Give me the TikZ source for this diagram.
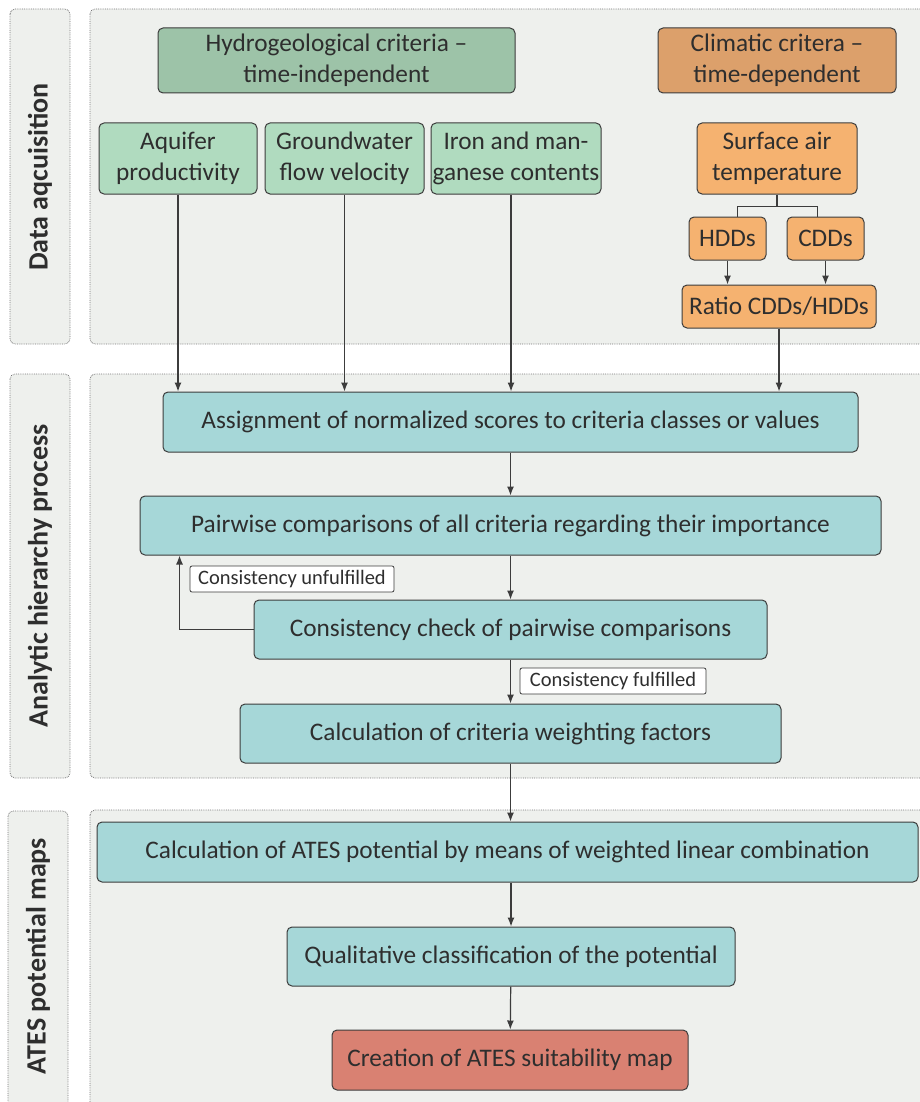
\documentclass[tikz,border=0pt]{standalone}
\usepackage{fontspec}
\setmainfont{Carlito}
\usetikzlibrary{arrows.meta}
\definecolor{panelbg}{HTML}{EEF0ED}
\definecolor{hydro}{HTML}{9DC3A8}
\definecolor{crit}{HTML}{B0DBBF}
\definecolor{clim}{HTML}{DCA06B}
\definecolor{temp}{HTML}{F5B270}
\definecolor{ahp}{HTML}{A6D7D8}
\definecolor{result}{HTML}{D98172}
\definecolor{edge}{HTML}{3C3C3C}
\definecolor{ink}{HTML}{2E2E2E}
\begin{document}
\begin{tikzpicture}[x=1pt,y=-1pt,>={Latex[length=9pt,width=7pt]},font=\fontsize{25.3}{31}\selectfont,text=ink]
        \tikzstyle{panel}=[fill=panelbg,draw=edge!70,densely dotted,rounded corners=5pt,line width=0.8pt]
        \tikzstyle{side}=[rotate=90,font=\fontsize{28}{32}\selectfont\bfseries]
        \tikzstyle{box}=[draw=edge,rounded corners=5pt,line width=1pt,align=center,inner sep=0pt]
        \tikzstyle{tag}=[draw=edge,fill=white,rounded corners=2pt,line width=0.8pt,inner sep=0pt,minimum height=26pt,font=\fontsize{20.5}{23}\selectfont]
        \tikzstyle{link}=[draw=edge,line width=1.2pt]
        \useasboundingbox (0,0) rectangle (919,1102);
        \draw[panel] (10,9) rectangle (70,344);
        \draw[panel] (90,9) rectangle (930,344);
        \draw[panel] (10,374) rectangle (70,778);
        \draw[panel] (90,374) rectangle (930,778);
        \draw[panel] (8,811) rectangle (68,1120);
        \draw[panel] (90,810) rectangle (930,1120);
        \node[side] (s1) at (40,177) {Data aqcuisition};
        \node[side] (s2) at (40,576) {Analytic hierarchy process};
        \node[side] (s3) at (38,956) {ATES potential maps};
        \node[box,fill=hydro,minimum width=357pt,minimum height=65pt] (hydro) at (336.5,60.5) {Hydrogeological criteria --\\time-independent};
        \node[box,fill=clim,minimum width=238pt,minimum height=65pt] (clim) at (777,60.5) {Climatic critera --\\time-dependent};
        \node[box,fill=crit,minimum width=158pt,minimum height=71pt] (aqui) at (178,158.5) {Aquifer\\productivity};
        \node[box,fill=crit,minimum width=159pt,minimum height=71pt] (flow) at (344.5,158.5) {Groundwater\\flow velocity};
        \node[box,fill=crit,minimum width=170pt,minimum height=71pt] (iron) at (516,158.5) {Iron and man-\\ganese contents};
        \node[box,fill=temp,minimum width=160pt,minimum height=71pt] (air) at (777,158.5) {Surface air\\temperature};
        \node[box,fill=temp,minimum width=77pt,minimum height=43pt] (hdd) at (727.5,238.5) {HDDs};
        \node[box,fill=temp,minimum width=77pt,minimum height=43pt] (cdd) at (825.5,238.5) {CDDs};
        \node[box,fill=temp,minimum width=194pt,minimum height=43pt] (ratio) at (779,306.5) {Ratio CDDs/HDDs};
        \node[box,fill=ahp,minimum width=695pt,minimum height=60pt] (score) at (510.5,422) {Assignment of normalized scores to criteria classes or values};
        \node[box,fill=ahp,minimum width=741pt,minimum height=59pt] (pair) at (510.5,525.5) {Pairwise comparisons of all criteria regarding their importance};
        \node[box,fill=ahp,minimum width=513pt,minimum height=59pt] (check) at (510.5,629.5) {Consistency check of pairwise comparisons};
        \node[box,fill=ahp,minimum width=541pt,minimum height=59pt] (weight) at (510.5,733.5) {Calculation of criteria weighting factors};
        \node[box,fill=ahp,minimum width=821pt,minimum height=60pt] (wlc) at (507.5,852) {Calculation of ATES potential by means of weighted linear combination};
        \node[box,fill=ahp,minimum width=448pt,minimum height=59pt] (qual) at (511,956.5) {Qualitative classification of the potential};
        \node[box,fill=result,minimum width=356pt,minimum height=60pt] (map) at (510,1060) {Creation of ATES suitability map};
        \node[tag,minimum width=204pt] (unful) at (292,579) {Consistency unfulfilled};
        \node[tag,minimum width=186pt] (ful) at (613,681) {Consistency fulfilled};
        \draw[link] (air.south) -- ++(0,12) coordinate (fork);
        \draw[link] ([xshift=10pt]hdd.north) |- (fork) -| ([xshift=-8pt]cdd.north);
        \draw[link,->] (hdd) -- (hdd |- ratio.north);
        \draw[link,->] (cdd) -- (cdd |- ratio.north);
        \draw[link,->] (aqui) -- (aqui |- score.north);
        \draw[link,->] (flow) -- (flow |- score.north);
        \draw[link,->] ([xshift=-5pt]iron.south) -- ([xshift=-5pt]iron.south |- score.north);
        \draw[link,->] (ratio) -- (ratio |- score.north);
        \draw[link,->] (score) -- (pair);
        \draw[link,->] (pair) -- (check);
        \draw[link,->] (check) -- (weight);
        \draw[link,->] (check.west) -| ([xshift=40pt]pair.south west);
        \draw[link,->] (weight) -- (weight |- wlc.north);
        \draw[link,->] (wlc.south -| qual) -- (qual);
        \draw[link,->] (qual) -- (map);
\end{tikzpicture}
\end{document}
